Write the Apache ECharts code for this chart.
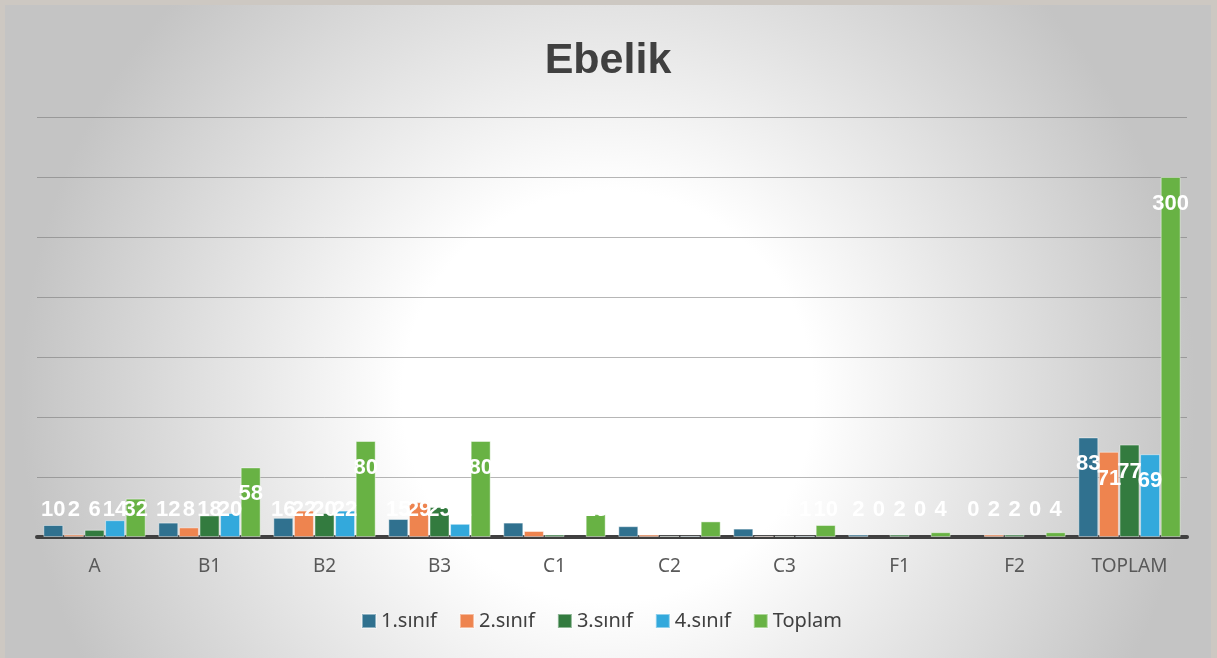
<!DOCTYPE html>
<html>
<head>
<meta charset="utf-8">
<script src="https://cdn.jsdelivr.net/npm/echarts@6/dist/echarts.min.js"></script>
<style>
  html, body { margin: 0; padding: 0; }
  body { width: 1217px; height: 658px; background: #cdc8c2; position: relative; overflow: hidden; }
  #chart { position: absolute; left: 5px; top: 5px; width: 1206px; height: 653px; }
</style>
</head>
<body>
<div id="chart"></div>
<script>
  // kategoriler ve seriler
  const categories = ["A", "B1", "B2", "B3", "C1", "C2", "C3", "F1", "F2", "TOPLAM"];
  const sinif1 = [10, 12, 16, 15, 12, 9, 7, 2, 0, 83];
  const sinif2 = [2, 8, 22, 29, 5, 2, 1, 0, 2, 71];
  const sinif3 = [6, 18, 20, 25, 2, 1, 1, 2, 2, 77];
  const sinif4 = [14, 20, 22, 11, 0, 1, 1, 0, 0, 69];
  const toplam = [32, 58, 80, 80, 19, 13, 10, 4, 4, 300];

  const seriesNames = ["1.sınıf", "2.sınıf", "3.sınıf", "4.sınıf", "Toplam"];
  const seriesColors = ["#30718f", "#ee844f", "#337b3f", "#33a9dc", "#68b244"];
  const seriesValues = [sinif1, sinif2, sinif3, sinif4, toplam];

  const chart = echarts.init(document.getElementById("chart"));

  // kısa barlarda etiket tabana yakın duruyor, uzunlarda üst içte
  function buildData(values) {
    return values.map(v => ({
      value: v,
      itemStyle: v === 0 ? { borderWidth: 0 } : {},
      label: v > 45
        ? { position: "insideTop", distance: 17 }
        : { position: "insideBottom", distance: 17 }
    }));
  }

  chart.setOption({
    backgroundColor: {
      type: "radial", x: 0.5, y: 0.6, r: 0.9,
      colorStops: [
        { offset: 0, color: "#ffffff" },
        { offset: 0.35, color: "#ffffff" },
        { offset: 1, color: "#c4c4c4" }
      ]
    },
    title: {
      text: "Ebelik",
      left: "center",
      top: 30,
      textStyle: { fontFamily: "Liberation Sans", fontWeight: "bold", fontSize: 43, color: "#404040" }
    },
    legend: {
      data: seriesNames,
      bottom: 22,
      left: 351,
      itemWidth: 14,
      itemHeight: 14,
      itemGap: 22,
      icon: "rect",
      textStyle: { fontFamily: "Noto Sans", fontSize: 20, color: "#404040" }
    },
    grid: { left: 32, right: 24, top: 112, bottom: 121 },
    xAxis: {
      type: "category",
      data: categories,
      axisLine: { lineStyle: { color: "#404040", width: 4 } },
      axisTick: { show: false },
      axisLabel: { fontFamily: "Noto Sans", fontSize: 19, color: "#595959", margin: 20 }
    },
    yAxis: {
      type: "value",
      min: 0,
      max: 350,
      interval: 50,
      axisLabel: { show: false },
      axisLine: { show: false },
      axisTick: { show: false },
      splitLine: { lineStyle: { color: "rgba(110,110,110,0.5)", width: 1 } }
    },
    series: seriesNames.map((name, i) => ({
      name: name,
      type: "bar",
      data: buildData(seriesValues[i]),
      barGap: "3%",
      barCategoryGap: "11%",
      itemStyle: { color: seriesColors[i], borderColor: "rgba(255,255,255,0.45)", borderWidth: 1 },
      label: {
        show: true,
        color: "#ffffff",
        fontFamily: "Liberation Sans",
        fontWeight: "bold",
        fontSize: 22,
        lineHeight: 20
      },
      labelLayout: { hideOverlap: false },
      animation: false
    }))
  });
</script>
</body>
</html>
